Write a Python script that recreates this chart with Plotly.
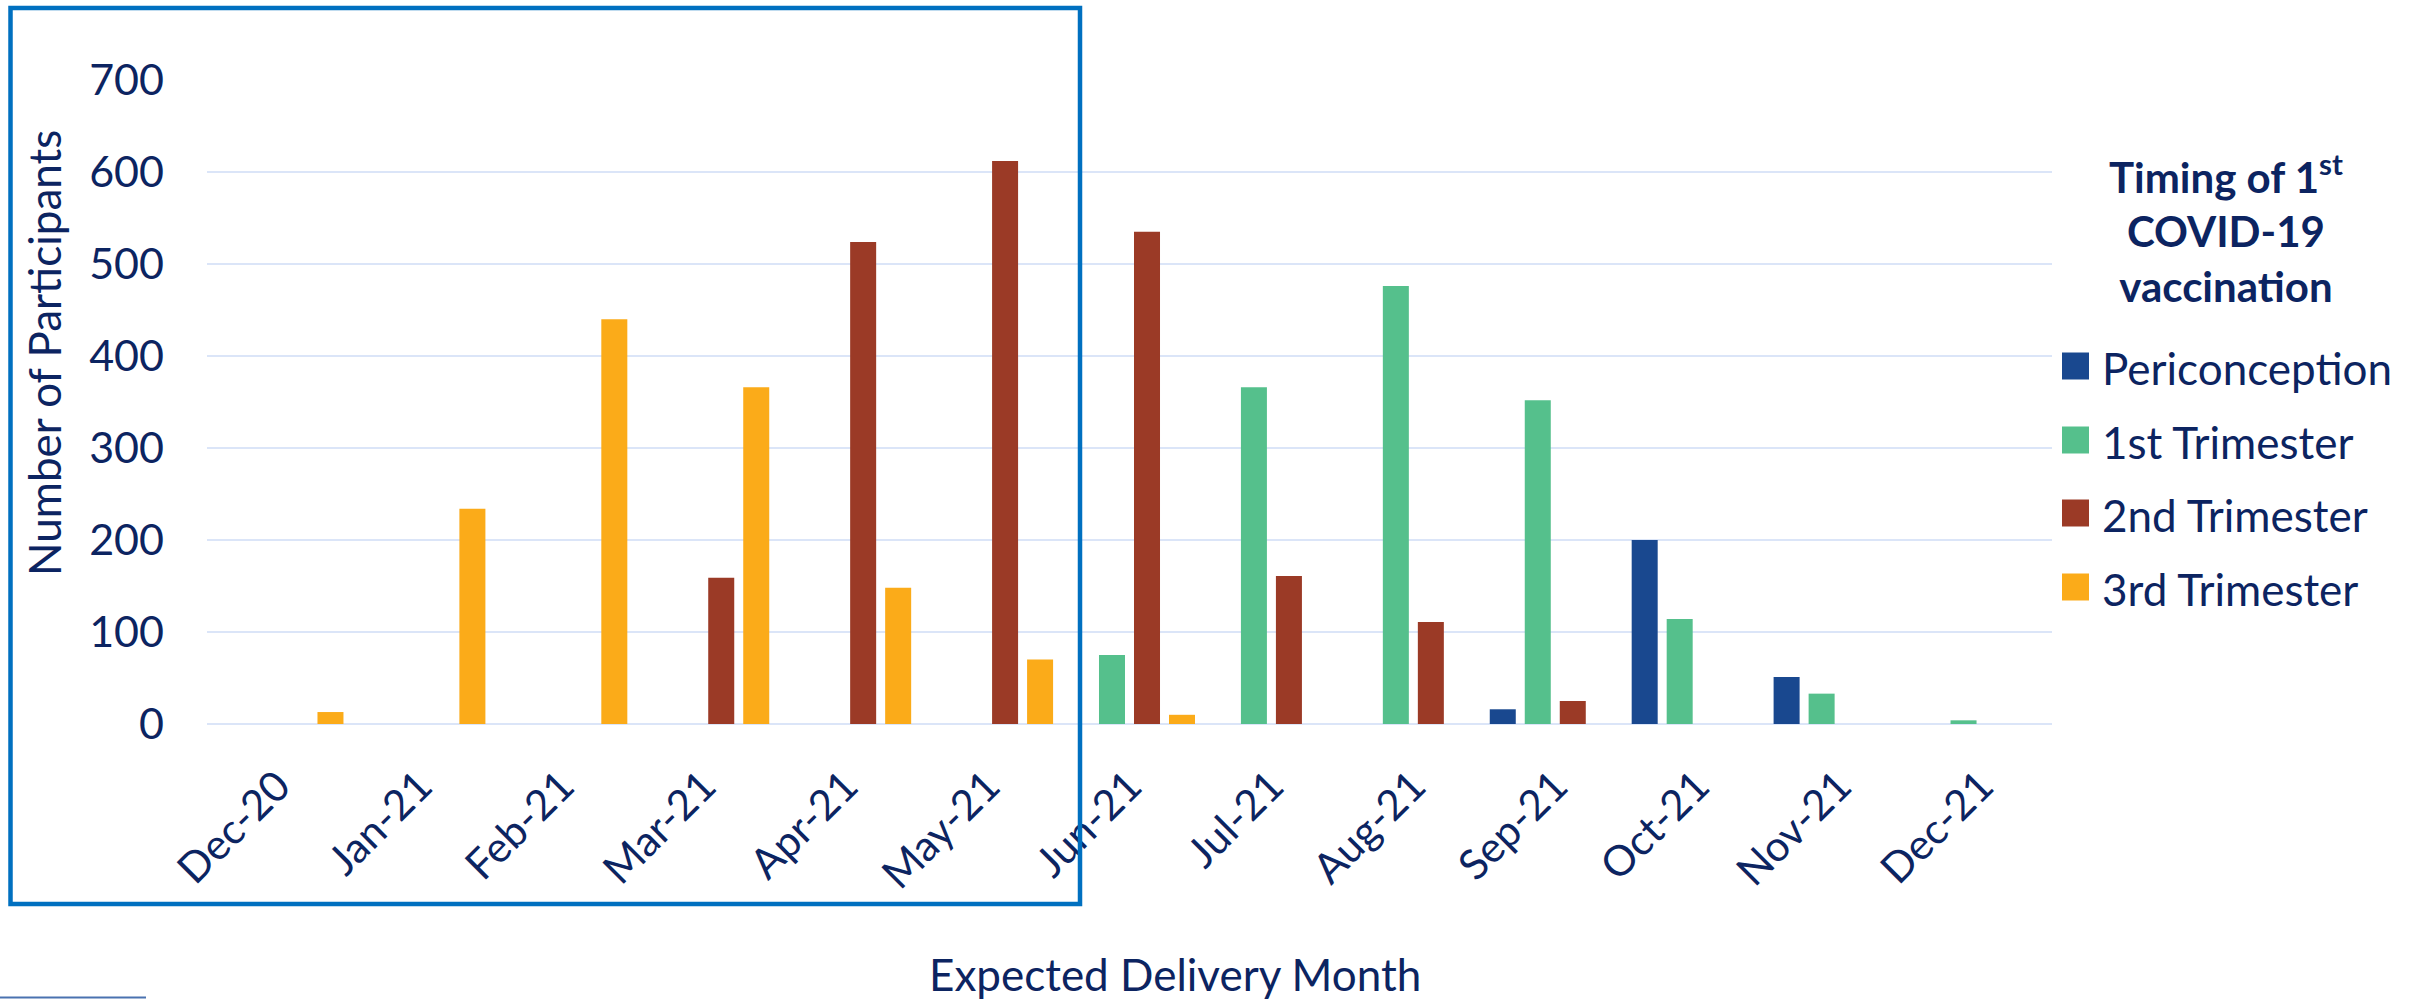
import plotly.graph_objects as go

months = ["Dec-20", "Jan-21", "Feb-21", "Mar-21", "Apr-21", "May-21", "Jun-21",
          "Jul-21", "Aug-21", "Sep-21", "Oct-21", "Nov-21", "Dec-21"]
series_names = ["Periconception", "1st Trimester", "2nd Trimester", "3rd Trimester"]
periconception = [0, 0, 0, 0, 0, 0, 0, 0, 0, 16, 200, 51, 0]
trimester1 = [0, 0, 0, 0, 0, 0, 75, 366, 476, 352, 114, 33, 4]
trimester2 = [0, 0, 0, 159, 524, 612, 535, 161, 111, 25, 0, 0, 0]
trimester3 = [13, 234, 440, 366, 148, 70, 10, 0, 0, 0, 0, 0, 0]
colors = ["#19488f", "#55c08c", "#9b3a26", "#fbab19"]
y_ticks = [0, 100, 200, 300, 400, 500, 600, 700]

TEXT = "#0c2461"
FONT = "Lato"
W, H = 2412, 999
L, R, T, B = 207, 360, 80, 275
PW, PH = W - L - R, H - T - B


def px(x):
    return (x - L) / PW


def py(y):
    return (H - B - y) / PH


fig = go.Figure()
for name, vals, col in zip(series_names, [periconception, trimester1, trimester2, trimester3], colors):
    fig.add_trace(go.Bar(x=months, y=vals, name=name, marker=dict(color=col, line=dict(width=0)),
                         showlegend=False, hoverinfo="skip"))

fig.update_layout(
    width=W, height=H,
    margin=dict(l=L, r=R, t=T, b=B),
    paper_bgcolor="white", plot_bgcolor="white",
    barmode="group", bargap=0.0134, bargroupgap=0.257,
    font=dict(family=FONT, color=TEXT, size=40),
    xaxis=dict(type="category", tickangle=-45, tickfont=dict(size=42, color=TEXT),
               showgrid=False, showline=False, zeroline=False, ticks="",
               ticklabelstandoff=28),
    yaxis=dict(range=[0, 700], tickvals=y_ticks, tickfont=dict(size=43, color=TEXT),
               showgrid=True, gridcolor="#dbe5f8", gridwidth=2,
               zeroline=True, zerolinecolor="#dbe5f8", zerolinewidth=2,
               showline=False, ticks="", ticklabelstandoff=42),
)

annotations = [
    dict(text="Number of Participants", textangle=-90, x=px(44), y=py(353),
         xref="paper", yref="paper", showarrow=False, xanchor="center", yanchor="middle",
         font=dict(size=44, color=TEXT, family=FONT)),
    dict(text="Expected Delivery Month", x=px(1175), y=py(974),
         xref="paper", yref="paper", showarrow=False, xanchor="center", yanchor="middle",
         font=dict(size=44, color=TEXT, family=FONT)),
    dict(text="<b>Timing of 1<sup>st</sup></b><br><b>COVID-19</b><br><b>vaccination</b>",
         x=px(2226), y=py(228), xref="paper", yref="paper", showarrow=False,
         xanchor="center", yanchor="middle", align="center",
         font=dict(size=42, color=TEXT, family=FONT)),
]
shapes = []
row_centers = [366, 440, 513, 587]
for name, col, yc in zip(series_names, colors, row_centers):
    shapes.append(dict(type="rect", xref="paper", yref="paper",
                       x0=px(2062), x1=px(2089), y0=py(yc + 13.5), y1=py(yc - 13.5),
                       fillcolor=col, line=dict(width=0)))
    annotations.append(dict(text=name, x=px(2100), y=py(yc + 2), xref="paper", yref="paper",
                            showarrow=False, xanchor="left", yanchor="middle",
                            font=dict(size=44, color=TEXT, family=FONT)))

# highlight frame
shapes.append(dict(type="rect", xref="paper", yref="paper",
                   x0=px(10.5), x1=px(1080), y0=py(904), y1=py(8),
                   line=dict(color="#0070c0", width=4.5), fillcolor="rgba(0,0,0,0)"))
# small cropped element at the bottom-left edge
shapes.append(dict(type="line", xref="paper", yref="paper",
                   x0=px(0), x1=px(146), y0=py(997.5), y1=py(997.5),
                   line=dict(color="#4a72b0", width=2)))

fig.update_layout(annotations=annotations, shapes=shapes)
fig.write_html("out.html")
